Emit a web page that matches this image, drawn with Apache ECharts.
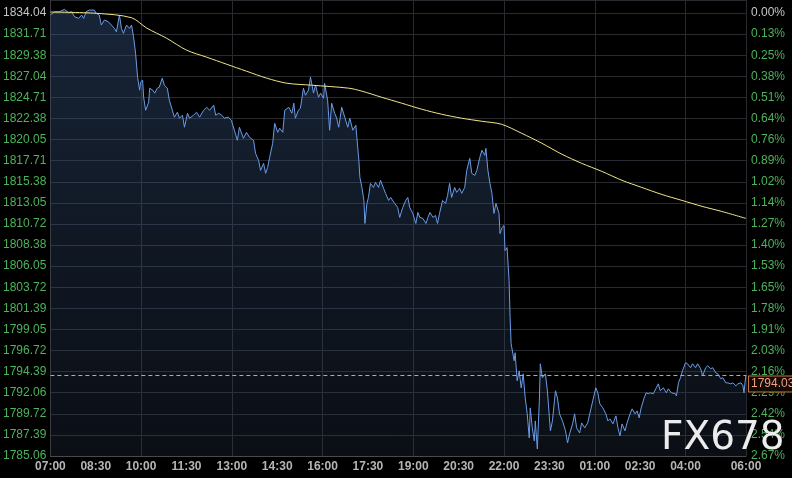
<!DOCTYPE html>
<html>
<head>
<meta charset="utf-8">
<script src="https://cdn.jsdelivr.net/npm/echarts@6/dist/echarts.min.js"></script>
<style>
html,body{margin:0;padding:0;background:#000;}
#chart{width:792px;height:478px;}
</style>
</head>
<body>
<div id="chart"></div>
<script>
// minutes after 07:00 for the price line
const priceMinutes = [0,8,18,28,36,42,48,56,62,66,71,77,87,91,97,101,107,115,121,127,131,137,141,145,151,157,161,165,169,173,177,179,183,185,189,195,197,203,207,212,216,222,226,232,236,242,246,252,256,262,266,272,276,284,290,296,304,310,316,324,328,334,340,345,353,359,365,371,375,383,389,395,403,407,413,417,423,427,431,435,441,445,451,455,461,465,473,479,483,486,492,496,502,506,512,516,522,526,532,536,542,544,550,554,558,564,568,572,578,584,590,594,600,606,608,612,614,618,622,624,628,631,635,641,645,651,655,661,665,671,675,683,689,693,699,705,709,713,719,725,729,733,739,745,749,753,759,764,768,772,778,784,788,792,796,802,806,812,816,822,826,832,836,842,846,852,856,862,864,868,872,876,880,884,890,892,896,900,902,906,910,912,914,920,922,926,930,934,938,942,946,950,952,956,960,962,966,970,972,976,982,986,990,992,996,1000,1002,1006,1010,1016,1022,1026,1030,1036,1040,1044,1050,1054,1060,1066,1070,1076,1082,1086,1090,1096,1102,1106,1110,1116,1122,1126,1130,1134,1140,1144,1150,1154,1160,1164,1168,1172,1178,1182,1186,1190,1196,1202,1206,1210,1216,1222,1226,1232,1240,1242,1246,1250,1254,1260,1264,1270,1274,1280,1284,1290,1294,1300,1304,1310,1314,1320,1324,1330,1334,1340,1344,1350,1354,1360,1364,1370,1374,1376,1378,1380];
const priceValues = [1833.82,1834.18,1834.18,1834.45,1834.07,1834.18,1833.63,1833.45,1833.82,1833.45,1834.18,1834.37,1834.37,1834.01,1833.82,1832.71,1833.26,1833.08,1832.71,1832.34,1831.97,1833.82,1832.34,1831.79,1832.71,1832.34,1832.71,1831.41,1829.61,1826.95,1825.51,1826.39,1826.62,1824.73,1823.29,1824.18,1825.73,1825.51,1825.18,1825.73,1825.84,1826.84,1826.06,1825.73,1824.40,1823.29,1822.52,1823.07,1822.41,1822.74,1821.41,1822.96,1822.41,1822.74,1823.07,1822.52,1823.29,1823.62,1823.29,1823.85,1822.74,1822.96,1822.74,1822.41,1822.52,1822.18,1821.08,1819.97,1821.41,1820.19,1820.85,1820.30,1819.97,1818.53,1817.75,1816.64,1817.42,1816.31,1816.98,1818.08,1819.64,1821.85,1820.85,1821.30,1820.85,1823.29,1823.62,1822.96,1824.07,1822.41,1823.29,1823.51,1825.73,1824.95,1825.51,1826.95,1825.18,1826.06,1824.73,1825.18,1824.62,1826.28,1824.40,1821.08,1824.07,1822.96,1822.41,1821.41,1823.62,1822.52,1821.41,1822.41,1821.08,1821.63,1820.30,1817.75,1815.87,1814.76,1813.32,1810.77,1812.99,1813.65,1815.20,1814.76,1815.31,1814.76,1815.54,1814.65,1814.10,1813.32,1813.65,1812.99,1812.54,1811.44,1812.54,1813.32,1813.65,1812.54,1811.88,1810.77,1811.99,1811.44,1811.33,1810.77,1811.44,1811.99,1811.44,1811.66,1810.77,1811.88,1813.32,1812.99,1813.87,1815.20,1813.65,1814.76,1814.21,1814.65,1814.10,1814.76,1816.64,1817.97,1816.31,1816.09,1816.64,1818.08,1818.86,1818.31,1819.08,1816.64,1815.20,1814.10,1811.88,1812.99,1811.88,1809.66,1810.33,1810.55,1807.78,1808.11,1804.46,1800.36,1797.48,1795.59,1796.48,1793.38,1794.48,1792.60,1794.15,1791.49,1789.72,1787.06,1790.38,1788.17,1786.73,1788.94,1785.84,1791.16,1795.26,1793.71,1794.15,1792.27,1789.28,1787.84,1788.94,1791.16,1792.27,1791.49,1789.72,1788.94,1787.84,1786.51,1787.50,1788.61,1789.72,1788.17,1787.61,1788.72,1788.17,1788.72,1789.72,1791.16,1792.60,1792.05,1790.83,1790.38,1789.72,1788.94,1789.17,1788.61,1789.50,1788.17,1787.28,1788.61,1787.84,1788.72,1789.72,1790.27,1789.72,1790.05,1789.28,1790.38,1791.49,1792.05,1791.94,1792.05,1791.94,1792.60,1793.04,1792.27,1792.60,1792.05,1792.49,1792.05,1791.94,1791.71,1793.15,1793.71,1794.48,1795.37,1795.26,1794.82,1795.26,1794.82,1795.26,1794.71,1793.93,1794.82,1795.04,1794.71,1794.82,1794.26,1794.15,1793.60,1793.71,1793.15,1793.15,1793.04,1793.15,1792.82,1793.04,1793.15,1792.82,1792.05,1793.15,1794.03];

// moving average line
const maMinutes = [0,91,161,191,230,270,310,349,389,429,469,518,592,618,657,697,737,776,816,856,895,935,975,1015,1054,1094,1134,1173,1213,1253,1293,1332,1380];
const maValues = [1834.15,1834.01,1833.52,1832.38,1831.27,1829.94,1829.16,1828.39,1827.61,1826.84,1826.28,1826.06,1825.73,1825.40,1824.73,1824.07,1823.40,1822.85,1822.41,1822.07,1821.74,1820.74,1819.64,1818.42,1817.42,1816.53,1815.54,1814.76,1813.98,1813.32,1812.66,1812.10,1811.33];

const lastPrice = 1794.03;
const lastPriceLabel = '1794.03';

const leftLabels = ['1785.06','1787.39','1789.72','1792.06','1794.39','1796.72','1799.05','1801.39','1803.72','1806.05','1808.38','1810.72','1813.05','1815.38','1817.71','1820.05','1822.38','1824.71','1827.04','1829.38','1831.71','1834.04'];
const rightLabels = ['2.67%','2.54%','2.42%','2.29%','2.16%','2.03%','1.91%','1.78%','1.65%','1.53%','1.40%','1.27%','1.14%','1.02%','0.89%','0.76%','0.64%','0.51%','0.38%','0.25%','0.13%','0.00%'];
const timeLabels = ['07:00','08:30','10:00','11:30','13:00','14:30','16:00','17:30','19:00','20:30','22:00','23:30','01:00','02:30','04:00',''];
const endTimeLabel = '06:00';
const watermark = 'FX678';

const Y_MIN = 1785.06, Y_TOP = 1834.04, Y_MAX = 1835.48;
const Y_STEP = (Y_TOP - Y_MIN) / 21;
const X_MAX = 1380;

function yIndex(v) {
  const i = Math.round((v - Y_MIN) / Y_STEP);
  return Math.abs(v - (Y_MIN + i * Y_STEP)) < 0.02 ? i : -1;
}

const pricePairs = priceMinutes.map((m, i) => [m, priceValues[i]]);
const maPairs = maMinutes.map((m, i) => [m, maValues[i]]);

const chart = echarts.init(document.getElementById('chart'), null, {renderer: 'canvas'});
chart.setOption({
  animation: false,
  backgroundColor: '#000000',
  grid: {left: 49, right: 46, top: 0, bottom: 22},
  xAxis: [{
    type: 'value', min: 0, max: X_MAX, interval: 90,
    axisLine: {show: true, lineStyle: {color: '#4a4a4a'}},
    axisTick: {show: false},
    splitLine: {show: false},
    axisLabel: {
      color: '#b5b5b5', fontSize: 12, fontWeight: 'bold', fontFamily: 'Liberation Sans, Arial', margin: 5,
      formatter: v => v === X_MAX ? endTimeLabel : (v % 90 === 0 ? (timeLabels[v / 90] || '') : '')
    }
  }, {
    type: 'value', min: 0, max: X_MAX, interval: 180, position: 'bottom',
    axisLine: {show: false}, axisTick: {show: false}, axisLabel: {show: false},
    splitLine: {show: true, lineStyle: {color: '#272b30', width: 1}}
  }],
  yAxis: [{
    type: 'value', min: Y_MIN, max: Y_MAX, interval: Y_STEP, position: 'left',
    axisLine: {show: true, lineStyle: {color: '#4a4a4a'}},
    axisTick: {show: false},
    splitLine: {show: true, lineStyle: {color: '#272b30', width: 1}},
    axisLabel: {
      fontSize: 12, fontFamily: 'Liberation Sans, Arial', margin: 4,
      color: v => yIndex(v) === 21 ? '#c4c4c4' : '#4bb35a',
      formatter: v => { const i = yIndex(v); return i >= 0 ? (leftLabels[i] || '') : ''; }
    }
  }, {
    type: 'value', min: Y_MIN, max: Y_MAX, interval: Y_STEP, position: 'right',
    axisLine: {show: true, lineStyle: {color: '#3a3a3a'}},
    axisTick: {show: false},
    splitLine: {show: false},
    axisLabel: {
      fontSize: 12, fontFamily: 'Liberation Sans, Arial', margin: 5,
      color: v => yIndex(v) === 21 ? '#c4c4c4' : '#4bb35a',
      formatter: v => { const i = yIndex(v); return i >= 0 ? (rightLabels[i] || '') : ''; }
    }
  }],
  series: [{
    type: 'line', name: 'price', data: pricePairs, xAxisIndex: 0, yAxisIndex: 0,
    showSymbol: false, symbol: 'none', clip: false,
    lineStyle: {color: '#6b9be6', width: 1},
    areaStyle: {
      origin: 'start',
      color: new echarts.graphic.LinearGradient(0, 0, 0, 1, [
        {offset: 0, color: 'rgba(60,95,145,0.56)'},
        {offset: 1, color: 'rgba(45,60,88,0.34)'}
      ])
    },
    markLine: {
      silent: true, symbol: ['none', 'none'], precision: 2,
      lineStyle: {color: '#f5a030', type: [4, 3], width: 1.2, opacity: 1},
      label: {
        show: true, position: 'end', distance: 3, offset: [0, 9],
        formatter: lastPriceLabel, color: '#f0a080', fontSize: 12, fontFamily: 'Liberation Sans, Arial',
        backgroundColor: '#140a05', borderColor: '#c8743e', borderWidth: 1, padding: [2, 2, 1, 2]
      },
      emphasis: {disabled: true},
      data: [{yAxis: lastPrice, lineStyle: {color: '#f5a030'}}]
    },
    z: 3
  }, {
    type: 'line', name: 'ma', data: maPairs, xAxisIndex: 0, yAxisIndex: 0,
    showSymbol: false, symbol: 'none', smooth: 0.3,
    lineStyle: {color: '#efe58a', width: 1},
    z: 4
  }],
  graphic: [{
    type: 'text', left: 661, top: 419, z: 100,
    style: {text: watermark, fill: '#ececec', fontSize: 39, fontFamily: 'DejaVu Sans'}
  }]
});
</script>
</body>
</html>
